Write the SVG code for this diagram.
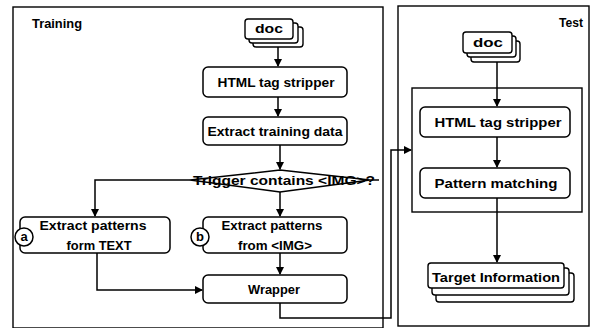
<svg xmlns="http://www.w3.org/2000/svg" width="595" height="328" viewBox="0 0 595 328">
  <style>
    .frame { fill: none; stroke: #000; stroke-width: 1.4; }
    .box { fill: #fff; stroke: #000; stroke-width: 1.5; }
    .card { fill: #fff; stroke: #000; stroke-width: 1.4; }
    .wire { fill: none; stroke: #000; stroke-width: 1.5; }
    .t { font-family: "Liberation Sans", Arial, sans-serif; font-weight: bold; font-size: 13px; fill: #000; }
    .c { text-anchor: middle; }
  </style>
  <defs>
    <marker id="arrow" markerWidth="8" markerHeight="8" refX="7" refY="4" orient="auto" markerUnits="userSpaceOnUse">
      <path d="M0,0 L8,4 L0,8 Z" fill="#000"/>
    </marker>
  </defs>

  <!-- outer panels -->
  <rect class="frame" x="13" y="7" width="370" height="321"/>
  <rect class="frame" x="398" y="6" width="191" height="320"/>
  <rect class="frame" x="412" y="88" width="170" height="124"/>

  <text class="t" x="32" y="28" textLength="50" lengthAdjust="spacingAndGlyphs">Training</text>
  <text class="t" x="559" y="27" textLength="24" lengthAdjust="spacingAndGlyphs">Test</text>

  <!-- connectors -->
  <g id="connectors">
    <line class="wire" x1="278" y1="47" x2="278" y2="66" marker-end="url(#arrow)"/>
    <line class="wire" x1="278" y1="97" x2="278" y2="116" marker-end="url(#arrow)"/>
    <line class="wire" x1="280" y1="145" x2="280" y2="169" marker-end="url(#arrow)"/>
    <polyline class="wire" points="190,180 95,180 95,216" marker-end="url(#arrow)"/>
    <line class="wire" x1="370" y1="180" x2="379" y2="180"/>
    <line class="wire" x1="280" y1="192" x2="280" y2="216" marker-end="url(#arrow)"/>
    <line class="wire" x1="280" y1="253" x2="280" y2="274" marker-end="url(#arrow)"/>
    <polyline class="wire" points="97,253 97,290 202,290" marker-end="url(#arrow)"/>
    <polyline class="wire" points="280,303 280,318 391,318 391,150 411,150" marker-end="url(#arrow)"/>
    <line class="wire" x1="497" y1="62" x2="497" y2="106" marker-end="url(#arrow)"/>
    <line class="wire" x1="497" y1="137" x2="497" y2="167" marker-end="url(#arrow)"/>
    <line class="wire" x1="497" y1="198" x2="497" y2="262" marker-end="url(#arrow)"/>
  </g>

  <!-- training side -->
  <g id="train-doc">
    <rect class="card" x="253" y="27" width="50" height="20" rx="3"/>
    <rect class="card" x="249" y="23" width="49" height="20" rx="3"/>
    <rect class="card" x="245" y="19" width="48" height="20" rx="3"/>
    <text class="t c" x="269" y="33" textLength="28" lengthAdjust="spacingAndGlyphs">doc</text>
  </g>

  <g id="train-stripper">
    <rect class="box" x="203" y="67" width="144" height="30" rx="5"/>
    <text class="t c" x="276" y="87" textLength="117" lengthAdjust="spacingAndGlyphs">HTML tag stripper</text>
  </g>

  <g id="extract-training">
    <rect class="box" x="203" y="117" width="144" height="28" rx="5"/>
    <text class="t c" x="275" y="136" textLength="135" lengthAdjust="spacingAndGlyphs">Extract training data</text>
  </g>

  <g id="trigger">
    <polygon class="box" points="280,170 370,180 280,192 190,180"/>
    <text class="t c" x="284" y="185" textLength="182" lengthAdjust="spacingAndGlyphs">Trigger contains &lt;IMG&gt;?</text>
  </g>

  <g id="patterns-text">
    <rect class="box" x="20" y="217" width="150" height="36" rx="5"/>
    <text class="t c" x="93" y="230" textLength="107" lengthAdjust="spacingAndGlyphs">Extract patterns</text>
    <text class="t c" x="99" y="250" textLength="65" lengthAdjust="spacingAndGlyphs">form TEXT</text>
    <circle class="box" cx="24" cy="237" r="9"/>
    <text class="t c" x="24" y="241">a</text>
  </g>

  <g id="patterns-img">
    <rect class="box" x="203" y="217" width="144" height="36" rx="5"/>
    <text class="t c" x="272" y="230" textLength="101" lengthAdjust="spacingAndGlyphs">Extract patterns</text>
    <text class="t c" x="275" y="250" textLength="74" lengthAdjust="spacingAndGlyphs">from &lt;IMG&gt;</text>
    <circle class="box" cx="200" cy="237" r="9"/>
    <text class="t c" x="200" y="241">b</text>
  </g>

  <g id="wrapper">
    <rect class="box" x="203" y="275" width="144" height="28" rx="5"/>
    <text class="t c" x="274" y="294" textLength="52" lengthAdjust="spacingAndGlyphs">Wrapper</text>
  </g>

  <!-- test side -->
  <g id="test-doc">
    <rect class="card" x="471" y="41" width="49" height="21" rx="3"/>
    <rect class="card" x="467" y="36" width="49" height="21" rx="3"/>
    <rect class="card" x="463" y="32" width="49" height="21" rx="3"/>
    <text class="t c" x="488" y="47" textLength="30" lengthAdjust="spacingAndGlyphs">doc</text>
  </g>

  <g id="test-stripper">
    <rect class="box" x="420" y="107" width="150" height="30" rx="5"/>
    <text class="t c" x="498" y="127" textLength="127" lengthAdjust="spacingAndGlyphs">HTML tag stripper</text>
  </g>

  <g id="pattern-matching">
    <rect class="box" x="420" y="168" width="150" height="30" rx="5"/>
    <text class="t c" x="496" y="188" textLength="123" lengthAdjust="spacingAndGlyphs">Pattern matching</text>
  </g>

  <g id="target-info">
    <rect class="card" x="436" y="273" width="138" height="29" rx="3"/>
    <rect class="card" x="432" y="268" width="137" height="27" rx="3"/>
    <rect class="card" x="428" y="263" width="136" height="25" rx="3"/>
    <text class="t c" x="496" y="282" textLength="128" lengthAdjust="spacingAndGlyphs">Target Information</text>
  </g>
</svg>
